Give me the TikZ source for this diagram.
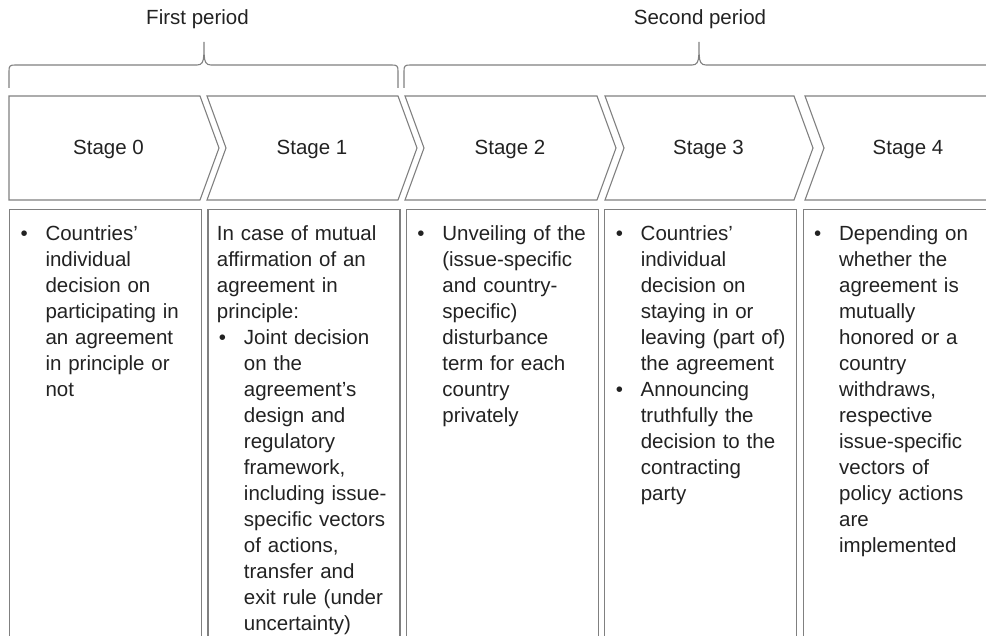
\documentclass[tikz,border=0pt]{standalone}
\usepackage{fontspec}
\setmainfont{Liberation Sans}
\usepackage{xcolor}
\usepackage{tikz}
\usetikzlibrary{positioning}

\definecolor{linegrey}{HTML}{808080}
\definecolor{textgrey}{HTML}{222222}
\setlength{\parindent}{0pt}
\newcommand{\bul}{\makebox[27pt][l]{\hspace{2pt}\textbullet}}
\newcommand{\ind}{\hspace*{27pt}}

\begin{document}
\begin{tikzpicture}[
                x=1pt, y=-1pt,
                every node/.style={text=textgrey, font=\fontsize{20.5}{26}\selectfont},
                chevron/.style={draw=linegrey, line width=1.1pt, line join=miter},
                bracket/.style={draw=linegrey, line width=1.1pt},
                label/.style={anchor=base},
                textbox/.style={draw=linegrey, line width=1.1pt, anchor=north west, text width=174pt, inner sep=9pt, text height=22pt, text depth=440pt, align=left}
            ]
                \useasboundingbox (0,0) rectangle (986,636);
                \clip (0,0) rectangle (986,636);

                % periods
                \node[label] (p1) at (197.5,25) {First period};
                \node[label] (p2) at (700,25) {Second period};
                \draw[bracket] (9,88) -- (9,71) .. controls (9,66) and (10,65) .. (15,65) -- (197,65)
                    .. controls (202,65) and (203.5,62) .. (203.8,55) -- (204,42) -- (204.2,55)
                    .. controls (204.5,62) and (206,65) .. (211,65) -- (392,65)
                    .. controls (397,65) and (398,66) .. (398,71) -- (398,88);
                \draw[bracket] (404,88) -- (404,71) .. controls (404,66) and (405,65) .. (410,65) -- (692,65)
                    .. controls (697,65) and (698.5,62) .. (698.8,55) -- (699,42) -- (699.2,55)
                    .. controls (699.5,62) and (701,65) .. (706,65) -- (1000,65);

                % stages
                \draw[chevron] (9,96) -- (200,96) -- (219,148) -- (200,200) -- (9,200) -- cycle;
                \draw[chevron] (207,96) -- (398,96) -- (417,148) -- (398,200) -- (207,200) -- (226,148) -- cycle;
                \draw[chevron] (405,96) -- (597,96) -- (616,148) -- (597,200) -- (405,200) -- (424,148) -- cycle;
                \draw[chevron] (605,96) -- (794,96) -- (813,148) -- (794,200) -- (605,200) -- (624,148) -- cycle;
                \draw[chevron] (805,96) -- (1000,96) -- (1019,148) -- (1000,200) -- (805,200) -- (824,148) -- cycle;
                \node[label] (s0) at (108.5,155) {Stage 0};
                \node[label] (s1) at (312,155) {Stage 1};
                \node[label] (s2) at (510,155) {Stage 2};
                \node[label] (s3) at (708.5,155) {Stage 3};
                \node[label] (s4) at (908,155) {Stage 4};

                % descriptions
                \node[textbox] (t0) at (9,209) {\bul Countries’\\ \ind individual\\ \ind decision on\\ \ind participating in\\ \ind an agreement\\ \ind in principle or\\ \ind not};
                \node[textbox, right=5.3pt of t0] (t1) {In case of mutual\\ affirmation of an\\ agreement in\\ principle:\\ \bul Joint decision\\ \ind on the\\ \ind agreement’s\\ \ind design and\\ \ind regulatory\\ \ind framework,\\ \ind including issue-\\ \ind specific vectors\\ \ind of actions,\\ \ind transfer and\\ \ind exit rule (under\\ \ind uncertainty)};
                \node[textbox, right=5.3pt of t1] (t2) {\bul Unveiling of the\\ \ind (issue-specific\\ \ind and country-\\ \ind specific)\\ \ind disturbance\\ \ind term for each\\ \ind country\\ \ind privately};
                \node[textbox, right=5.3pt of t2] (t3) {\bul Countries’\\ \ind individual\\ \ind decision on\\ \ind staying in or\\ \ind leaving (part of)\\ \ind the agreement\\ \bul Announcing\\ \ind truthfully the\\ \ind decision to the\\ \ind contracting\\ \ind party};
                \node[textbox, right=5.3pt of t3] (t4) {\bul Depending on\\ \ind whether the\\ \ind agreement is\\ \ind mutually\\ \ind honored or a\\ \ind country\\ \ind withdraws,\\ \ind respective\\ \ind issue-specific\\ \ind vectors of\\ \ind policy actions\\ \ind are\\ \ind implemented};
            \end{tikzpicture}
\end{document}
